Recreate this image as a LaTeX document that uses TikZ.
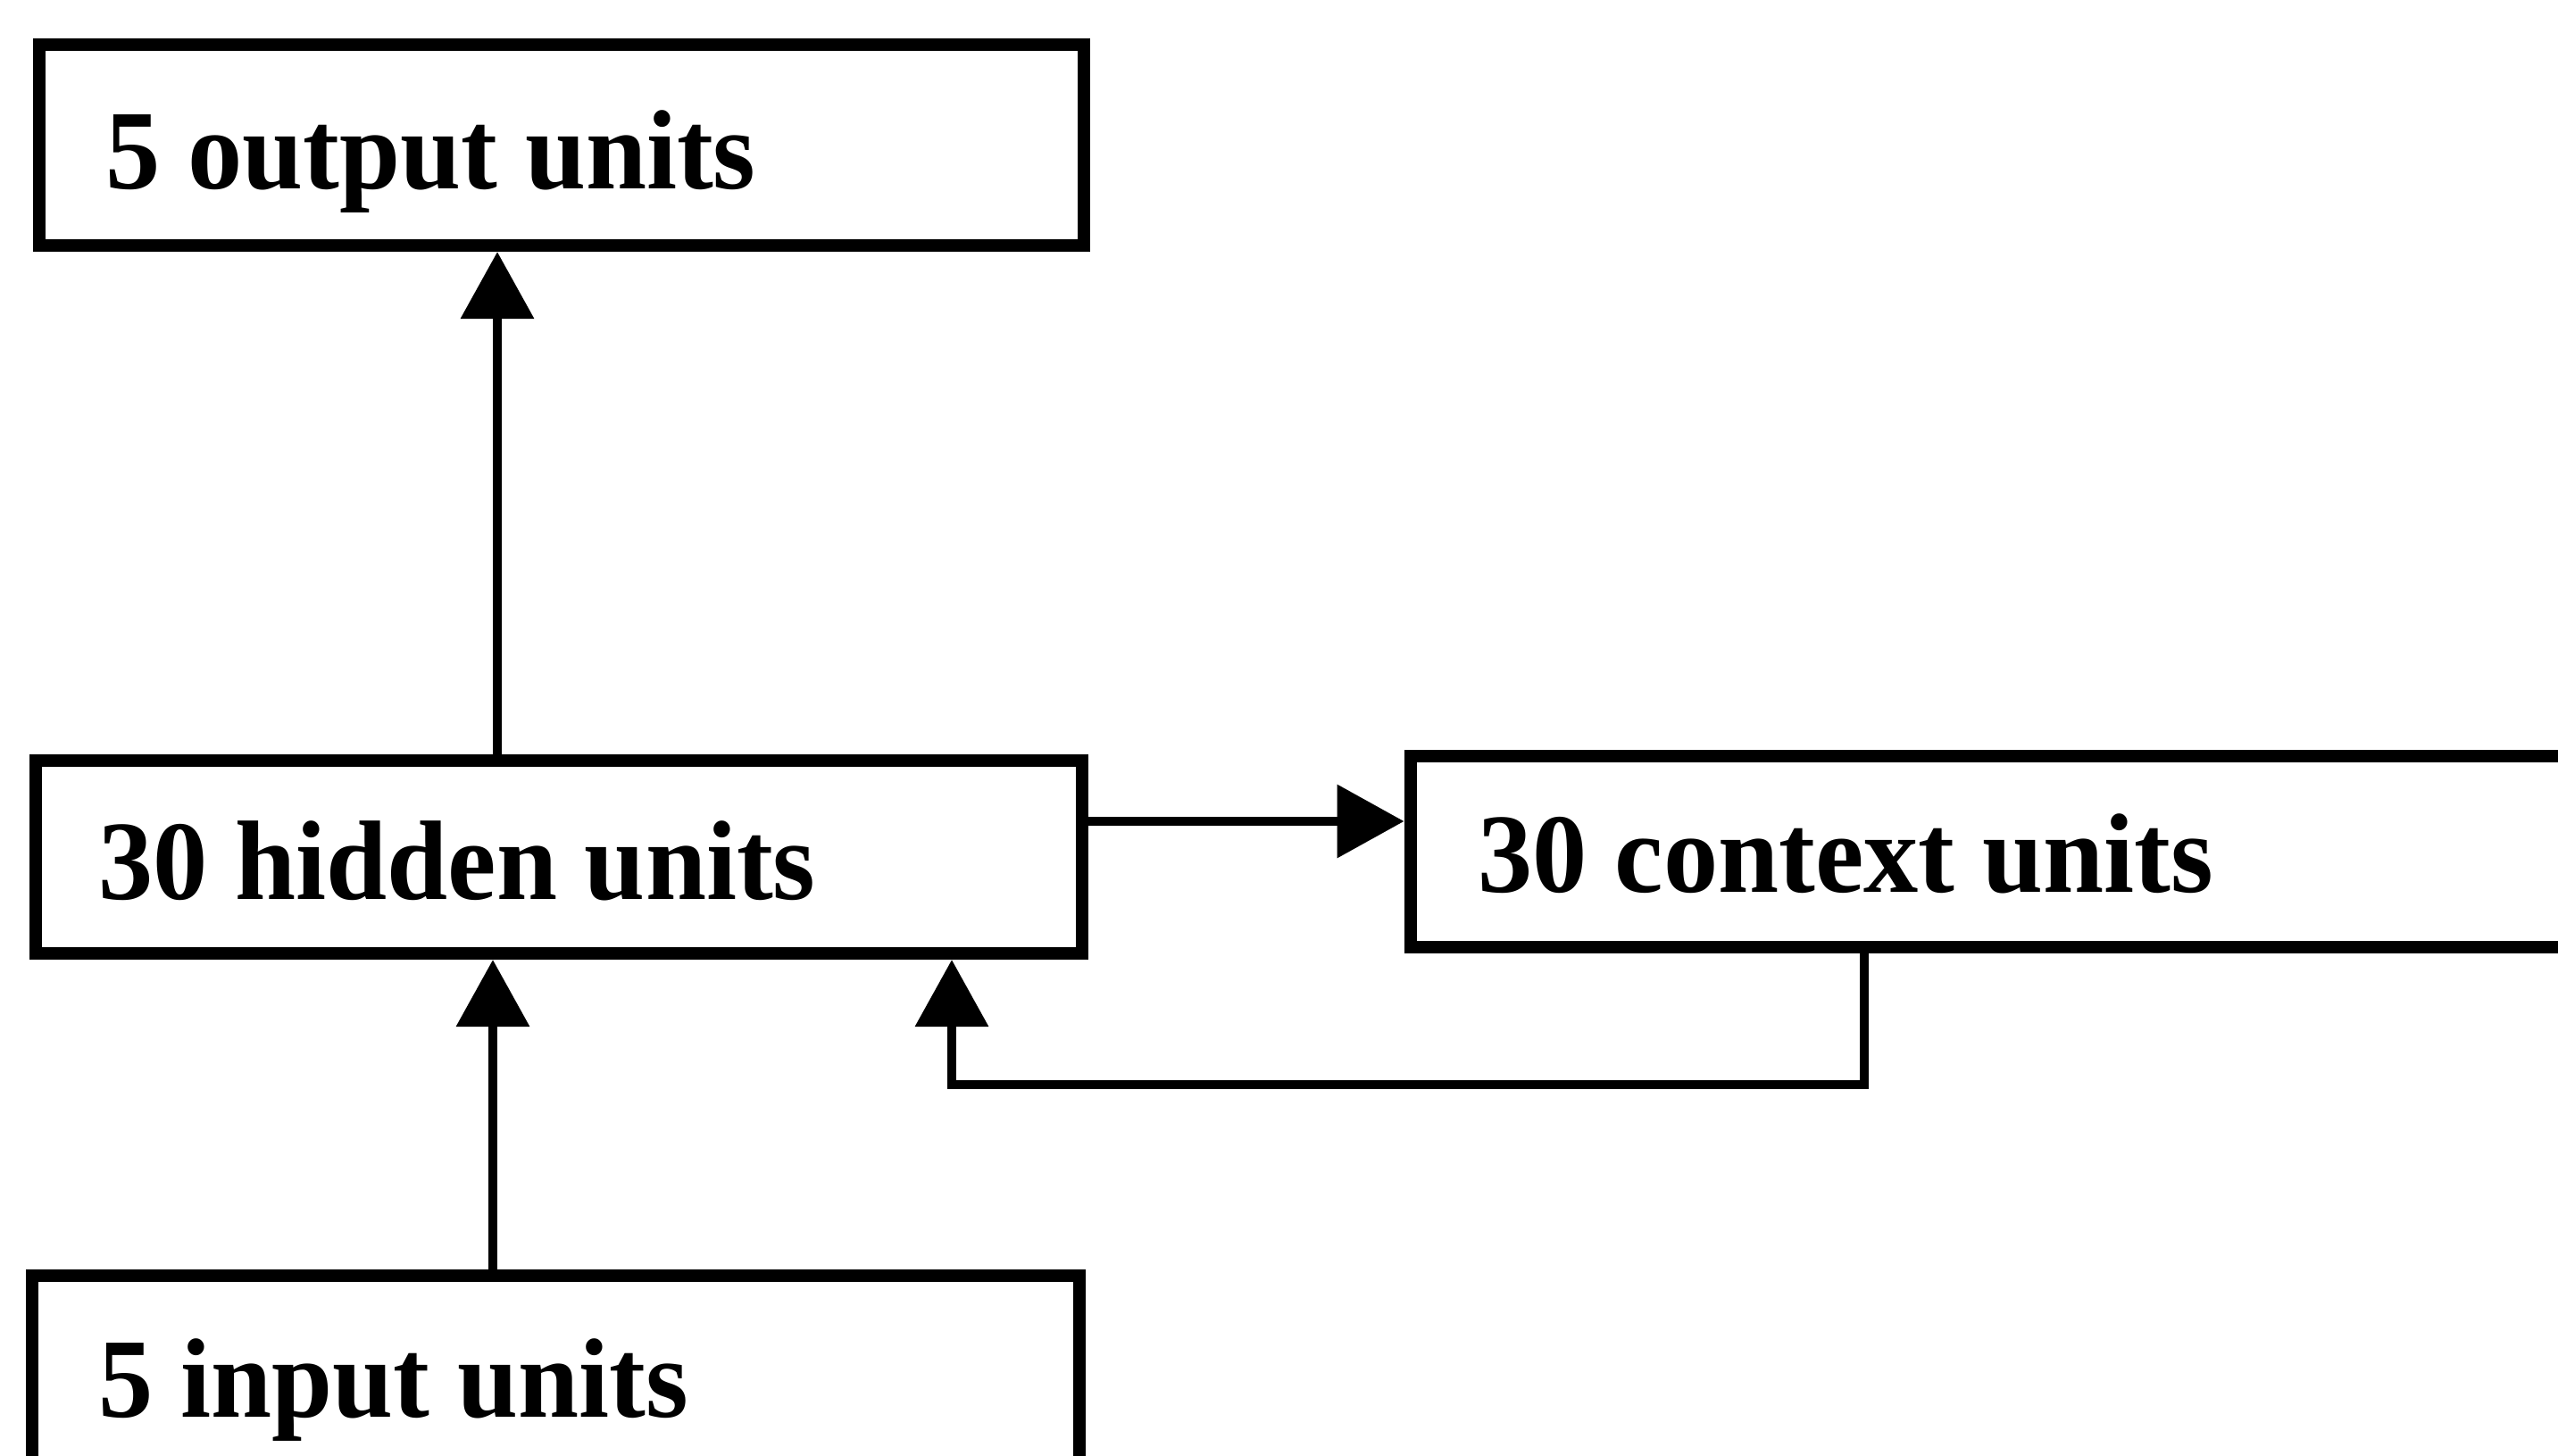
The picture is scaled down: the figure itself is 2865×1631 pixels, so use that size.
\documentclass[tikz,border=0pt]{standalone}
\usepackage{fontspec}
\setmainfont[FakeStretch=0.967]{Liberation Serif}
\usetikzlibrary{arrows.meta}
\begin{document}
\begin{tikzpicture}[x=0.01cm,y=-0.01cm,
  unitbox/.style={draw=black,line width=0.14cm,rectangle,inner sep=0pt,outer sep=0.07cm},
  unitlabel/.style={anchor=base west,inner sep=0pt,font=\fontsize{36}{40}\selectfont\bfseries},
  conn/.style={draw=black,line width=0.105cm,line join=miter,
    -{Triangle[length=0.75cm,width=0.8cm]}}]
\useasboundingbox (0,0) rectangle (2865,1631);
\clip (0,0) rectangle (2865,1631);
\fill[white] (0,0) rectangle (2865,1631);

% the four layers of the network
\node[unitbox,minimum width=11.70cm,minimum height=2.25cm] (out) at (629,162.5) {};
\node[unitbox,minimum width=11.72cm,minimum height=2.16cm] (hid) at (626,960) {};
\node[unitbox,minimum width=14.13cm,minimum height=2.14cm] (ctx) at (2286.5,954) {};
\node[unitbox,minimum width=11.73cm,minimum height=2.34cm] (inp) at (622.5,1546) {};

\node[unitlabel] (outlab) at (118,212) {5 output units};
\node[unitlabel] (hidlab) at (110,1008) {30 hidden units};
\node[unitlabel] (ctxlab) at (1655,1000) {30 context units};
\node[unitlabel] (inplab) at (110,1587) {5 input units};

% routing points
\coordinate (upx) at (557,0);
\coordinate (inx) at (552,0);
\coordinate (sidey) at (0,920);
\coordinate (fbturn) at (2088,1215);
\coordinate (fbup) at (1066,1215);

% feed-forward connections
\draw[conn] (hid.north -| upx) -- (out.south -| upx);
\draw[conn] (inp.north -| inx) -- (hid.south -| inx);
\draw[conn] (hid.east |- sidey) -- (ctx.west |- sidey);
% recurrent copy back from the context layer
\draw[conn] (ctx.south -| fbturn) -- (fbturn) -- (fbup) -- (hid.south -| fbup);
\end{tikzpicture}
\end{document}
